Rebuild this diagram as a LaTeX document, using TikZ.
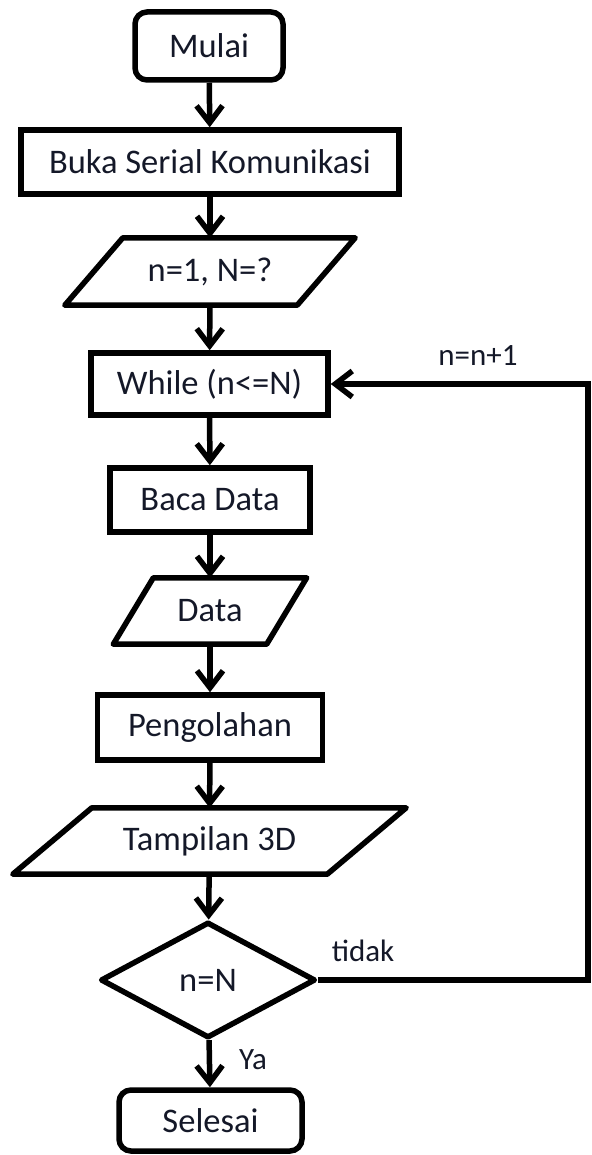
\documentclass[tikz,border=0pt]{standalone}
\usepackage{fontspec}
\setmainfont{Carlito}
\usetikzlibrary{arrows.meta,calc,shapes.geometric}
\definecolor{ink}{RGB}{20,24,40}
\begin{document}
\begin{tikzpicture}[x=1pt,y=-1pt,
  every node/.style={font=\fontsize{34.5}{41}\selectfont, text=ink, inner sep=0pt},
  box/.style={draw, line width=5.5pt},
  term/.style={box, rounded corners=12pt},
  io/.style={},
  decision/.style={draw, diamond, line width=5.5pt, line join=round, shape aspect=1.85},
  flow/.style={line width=5.5pt, -{Straight Barb[length=17pt,width=26pt,line width=5.5pt]}},
  edge/.style={line width=5.5pt, line join=round},
  lbl/.style={font=\fontsize{31}{37}\selectfont}]

  % canvas
  \useasboundingbox (0,0) rectangle (591,1155);

  % process steps
  \node[term, minimum width=148pt, minimum height=68pt] (start) at (209,46) {Mulai};
  \node[box, minimum width=378pt, minimum height=64pt] (open) at (210,162) {Buka Serial Komunikasi};
  \node[io, minimum width=232pt, minimum height=67pt] (init) at (210,271.5) {n=1, N=?};
  \node[box, minimum width=237pt, minimum height=62pt] (while) at (209.5,384) {While (n<=N)};
  \node[box, minimum width=200pt, minimum height=64pt] (read) at (210,500) {Baca Data};
  \node[io, minimum width=153pt, minimum height=66pt] (data) at (210,611) {Data};
  \node[box, minimum width=225pt, minimum height=65pt] (proc) at (210,727.5) {Pengolahan};
  \node[io, minimum width=314pt, minimum height=66pt] (show) at (209.5,841) {Tampilan 3D};
  \node[decision, minimum width=215pt, minimum height=116pt] (test) at (208,980) {n=N};
  \node[term, minimum width=183pt, minimum height=61pt] (stop) at (210.5,1120.5) {Selesai};

  % input/output parallelograms around their text nodes
  \draw[edge] ($(init.north west)+(29,0)$) -- ($(init.north east)+(29,0)$)
    -- ($(init.south east)-(29,0)$) -- ($(init.south west)-(29,0)$) -- cycle;
  \draw[edge] ($(data.north west)+(20,0)$) -- ($(data.north east)+(20,0)$)
    -- ($(data.south east)-(20,0)$) -- ($(data.south west)-(20,0)$) -- cycle;
  \draw[edge] ($(show.north west)+(39.5,0)$) -- ($(show.north east)+(39.5,0)$)
    -- ($(show.south east)-(39.5,0)$) -- ($(show.south west)-(39.5,0)$) -- cycle;

  % main flow
  \draw[flow] (start) -- (open);
  \draw[flow] (open) -- (init);
  \draw[flow] (init) -- (while);
  \draw[flow] (while) -- (read);
  \draw[flow] (read) -- (data);
  \draw[flow] (data) -- (proc);
  \draw[flow] (proc) -- (show);
  \draw[flow] (show) -- (test);
  \draw[flow] (test) -- (stop);

  % loop back
  \coordinate (rail) at (588,0);
  \draw[flow] (test.east) -- (test.east -| rail) |- (while.east);

  % labels
  \node[lbl] (inc) at (478,356) {n=n+1};
  \node[lbl] (no) at (363,951) {tidak};
  \node[lbl] (yes) at (253,1060) {Ya};
\end{tikzpicture}
\end{document}
